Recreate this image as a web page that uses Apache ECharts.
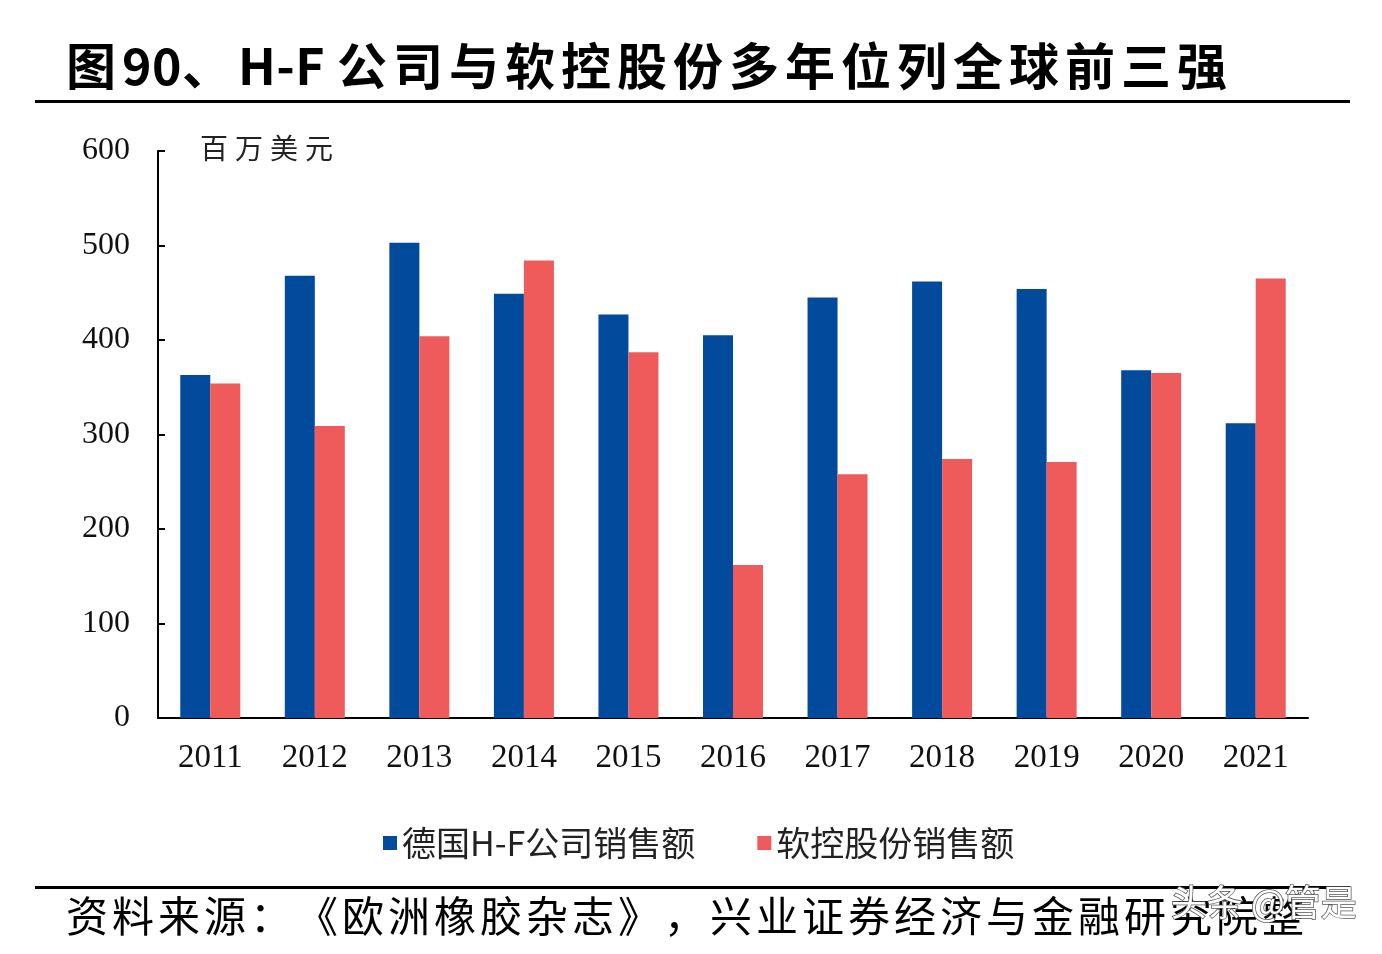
<!DOCTYPE html>
<html><head><meta charset="utf-8">
<script src="https://cdn.jsdelivr.net/npm/echarts@6/dist/echarts.min.js"></script>
<style>html,body{margin:0;padding:0;background:#fff}#c{width:1382px;height:954px}</style>
</head><body><div id="c"></div>
<script>
const years = ['2011','2012','2013','2014','2015','2016','2017','2018','2019','2020','2021'];
const hfSales = [363, 468, 503, 449, 427, 405, 445, 462, 454, 368, 312];
const mesnacSales = [354, 309, 404, 484, 387, 162, 258, 274, 271, 365, 465];
const seriesNames = ['德国H-F公司销售额', '软控股份销售额'];
const titleText = '图90、H-F 公司与软控股份多年位列全球前三强';
const unitText = '百万美元';
const sourceText = '资料来源：《欧洲橡胶杂志》，兴业证券经济与金融研究院整';

const serif = '"Liberation Serif", "Noto Sans CJK SC", serif';
const cjk = '"Noto Sans CJK SC", sans-serif';

// lay a string out as text elements with extra spacing after wide (CJK) characters
const mctx = document.createElement('canvas').getContext('2d');
function spacedText(str, x, y, font, spacing, fill) {
  mctx.font = font;
  const els = [];
  let cx = x;
  for (const ch of str) {
    els.push({ type: 'text', x: cx, y: y, z: 50, style: { text: ch, font: font, fill: fill, textVerticalAlign: 'top' } });
    const wide = ch.charCodeAt(0) > 0x2000;
    cx += mctx.measureText(ch).width + (wide ? spacing : 0.5);
  }
  return els;
}

const chart = echarts.init(document.getElementById('c'));
chart.setOption({
  backgroundColor: '#fff',
  animation: false,
  grid: { left: 158, right: 74, top: 151, bottom: 236 },
  legend: {
    left: 378, top: 821, icon: 'rect', itemWidth: 14, itemHeight: 14, itemGap: 62,
    textStyle: { fontFamily: cjk, fontSize: 34, color: '#222' },
    data: seriesNames
  },
  xAxis: {
    type: 'category', data: years,
    axisLine: { lineStyle: { color: '#000', width: 2 } },
    axisTick: { show: false },
    axisLabel: { fontFamily: serif, fontSize: 33, color: '#111', margin: 24 }
  },
  yAxis: {
    type: 'value', min: 0, max: 600, interval: 100,
    axisLine: { show: true, lineStyle: { color: '#000', width: 2 } },
    axisTick: { show: true, inside: true, length: 7, lineStyle: { color: '#000', width: 2 } },
    axisLabel: { fontFamily: serif, fontSize: 32, color: '#111', margin: 28 },
    splitLine: { show: false }
  },
  series: [
    { name: seriesNames[0], type: 'bar', data: hfSales, barWidth: 30, barGap: '0%', itemStyle: { color: '#024A9B' } },
    { name: seriesNames[1], type: 'bar', data: mesnacSales, barWidth: 30, itemStyle: { color: '#EF5B5B' } }
  ],
  graphic: [].concat(
    spacedText(titleText, 66, 41, 'bold 50px "Noto Sans CJK SC", sans-serif', 6, '#000'),
    [{ type: 'rect', shape: { x: 35, y: 100, width: 1315, height: 3 }, style: { fill: '#000' } }],
    spacedText(unitText, 200, 134, '28px "Noto Sans CJK SC", sans-serif', 7, '#222'),
    [{ type: 'rect', shape: { x: 35, y: 886, width: 1315, height: 3 }, style: { fill: '#000' } }],
    spacedText(sourceText, 66, 895, '42px "Noto Sans CJK SC", sans-serif', 4, '#000'),
    [{ type: 'text', left: 1170, top: 884, z: 100, style: { text: '头条 @管是', font: '36px "Noto Sans CJK SC", sans-serif', fill: '#fff', stroke: '#555', lineWidth: 1.5 } }]
  )
});
</script></body></html>
